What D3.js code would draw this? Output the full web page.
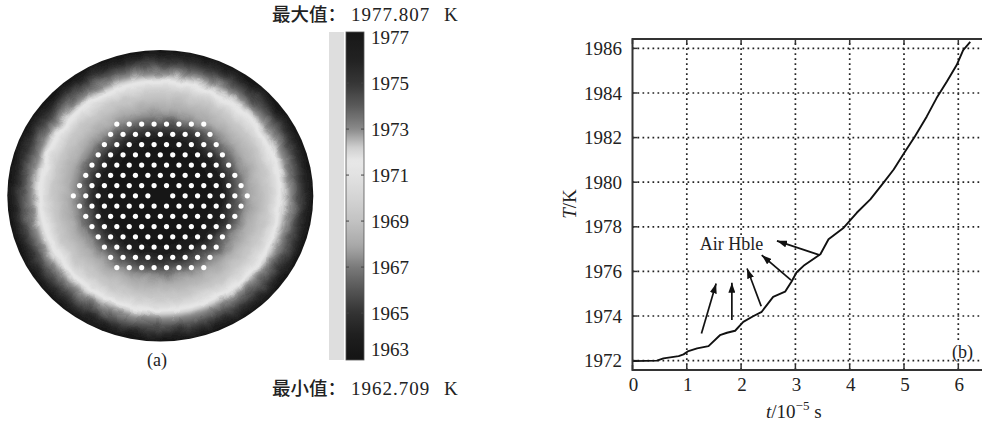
<!DOCTYPE html>
<html><head><meta charset="utf-8">
<script src="https://cdn.jsdelivr.net/npm/d3@7"></script>
<style>body{margin:0;background:#fff}svg{display:block}
.serif{font-family:"Liberation Serif","DejaVu Serif","Times New Roman",serif}
.cjk{font-family:"Noto Sans CJK SC","Noto Sans CJK JP",sans-serif}</style>
</head><body>
<svg id="fig" width="982" height="423"></svg>
<script>
// ---------- Panel (a): temperature field on the fiber end face ----------
// radial temperature profile, normalized radius -> K
const profileRadius = [0.00, 0.30, 0.40, 0.47, 0.55, 0.62, 0.70, 0.75, 0.78, 0.81, 0.84, 0.88, 0.92, 0.96, 1.00];
const profileTemp   = [1963.0, 1963.2, 1964.0, 1965.5, 1967.3, 1968.3, 1969.3, 1970.4, 1971.4, 1972.2, 1972.9, 1973.8, 1974.8, 1976.0, 1977.4];

// air-hole rows of the hexagonal cladding, top to bottom (centre hole absent)
const holeRowCounts = [8, 9, 10, 11, 12, 13, 14, 15, 14, 13, 12, 11, 10, 9, 8];
const holePitch = 0.0812;

// grey colour map, K -> grey level
const cmapTemp = [1962.7, 1964.0, 1965.0, 1966.0, 1967.0, 1967.6, 1968.0, 1969.0, 1970.0, 1971.0, 1971.6, 1972.2, 1973.0, 1974.0, 1975.0, 1976.0, 1977.8];
const cmapGray = [17, 30, 51, 85, 122, 153, 170, 194, 212, 226, 232, 207, 138, 90, 54, 34, 17];

const colorbarTicks = [1963, 1965, 1967, 1969, 1971, 1973, 1975, 1977];
const maxTemp = "1977.807";
const minTemp = "1962.709";

// ---------- Panel (b): temperature rise vs time ----------
const timeData = [0.00, 0.45, 0.57, 0.85, 0.94, 1.03, 1.19, 1.40, 1.61, 1.74, 1.89, 2.04, 2.23, 2.38, 2.59, 2.81, 2.93, 3.02, 3.15, 3.46, 3.61, 3.89, 4.13, 4.38, 4.62, 4.81, 5.02, 5.20, 5.42, 5.60, 5.79, 5.97, 6.09, 6.22];
const tempData = [1971.98, 1972.00, 1972.10, 1972.20, 1972.28, 1972.43, 1972.55, 1972.65, 1973.14, 1973.25, 1973.34, 1973.74, 1974.00, 1974.19, 1974.86, 1975.09, 1975.55, 1975.95, 1976.25, 1976.77, 1977.44, 1977.96, 1978.63, 1979.23, 1979.97, 1980.57, 1981.38, 1982.05, 1982.95, 1983.77, 1984.51, 1985.25, 1985.92, 1986.29];
const xTicks = [0, 1, 2, 3, 4, 5, 6];
const yTicks = [1972, 1974, 1976, 1978, 1980, 1982, 1984, 1986];

// annotation arrows (start on the curve, tip toward the label)
const arrowStartT = [1.27, 1.83, 2.37, 2.92, 3.45];
const arrowStartK = [1973.22, 1973.82, 1974.44, 1975.61, 1976.73];
const arrowTipT   = [1.54, 1.83, 2.11, 2.38, 2.66];
const arrowTipK   = [1975.46, 1975.49, 1976.13, 1976.73, 1977.37];
const annotation = {text: "Air Hble", t: 1.24, k: 1976.96};

const svg = d3.select("#fig");
const defs = svg.append("defs");

const gray = v => d3.rgb(v, v, v).formatHex();
const cmap = d3.scaleLinear().domain(cmapTemp).range(cmapGray.map(gray)).clamp(true);

// ---- fiber section ----
const cx = 160.3, cy = 195.8, rx = 153, ry = 145.8;
const fx = d3.scaleLinear().domain([-1, 1]).range([cx - rx, cx + rx]);
const fy = d3.scaleLinear().domain([-1, 1]).range([cy - ry, cy + ry]);
const radialT = d3.scaleLinear().domain(profileRadius).range(profileTemp);

const rg = defs.append("radialGradient").attr("id", "field")
  .attr("cx", "50%").attr("cy", "50%").attr("r", "50%");
d3.range(0, 1.0001, 0.01).forEach(r => {
  rg.append("stop").attr("offset", r).attr("stop-color", cmap(radialT(r)));
});

const turb = defs.append("filter").attr("id", "ragged")
  .attr("x", "-10%").attr("y", "-10%").attr("width", "120%").attr("height", "120%");
turb.append("feTurbulence").attr("type", "fractalNoise").attr("baseFrequency", 0.07)
  .attr("numOctaves", 2).attr("seed", 4).attr("result", "n");
turb.append("feDisplacementMap").attr("in", "SourceGraphic").attr("in2", "n")
  .attr("scale", 7).attr("xChannelSelector", "R").attr("yChannelSelector", "G");

defs.append("clipPath").attr("id", "fiberClip").append("ellipse")
  .attr("cx", cx).attr("cy", cy).attr("rx", rx).attr("ry", ry);

const fiber = svg.append("g").attr("clip-path", "url(#fiberClip)");
const fieldG = fiber.append("g").attr("filter", "url(#ragged)");
fieldG.append("ellipse").attr("cx", cx).attr("cy", cy).attr("rx", rx + 10).attr("ry", ry + 10)
  .attr("fill", cmap(profileTemp[profileTemp.length - 1]));
fieldG.append("ellipse").attr("cx", cx).attr("cy", cy).attr("rx", rx).attr("ry", ry)
  .attr("fill", "url(#field)");

defs.append("filter").attr("id", "soft").append("feGaussianBlur").attr("stdDeviation", 0.5);
const holes = [];
const mid = (holeRowCounts.length - 1) / 2;
holeRowCounts.forEach((n, i) => {
  for (let j = 0; j < n; j++) {
    const u = (j - (n - 1) / 2) * holePitch;
    const v = (i - mid) * holePitch * Math.sqrt(3) / 2;
    if (i === mid && j === (n - 1) / 2) continue;
    holes.push([u, v]);
  }
});
fiber.append("g").attr("filter", "url(#soft)").selectAll("circle").data(holes).join("circle")
  .attr("cx", d => fx(d[0])).attr("cy", d => fy(d[1])).attr("r", 2.6).attr("fill", "#fff");

svg.append("text").attr("class", "serif").attr("x", 157).attr("y", 366).attr("text-anchor", "middle")
  .attr("font-size", 18).attr("fill", "#222").text("(a)");

// ---- colour bar ----
const cbX = 346, cbW = 18, cbTop = 32, cbBot = 360;
const cb = d3.scaleLinear().domain([1962.96, 1977.22]).range([cbBot, cbTop]);
const lg = defs.append("linearGradient").attr("id", "cbar")
  .attr("x1", 0).attr("y1", 1).attr("x2", 0).attr("y2", 0);
d3.range(0, 1.0001, 0.01).forEach(f => {
  const t = cb.domain()[0] + f * (cb.domain()[1] - cb.domain()[0]);
  lg.append("stop").attr("offset", f).attr("stop-color", cmap(t));
});
svg.append("rect").attr("x", 329).attr("y", cbTop).attr("width", 15).attr("height", cbBot - cbTop)
  .attr("fill", "#dedede");
svg.append("rect").attr("x", cbX).attr("y", cbTop).attr("width", cbW).attr("height", cbBot - cbTop)
  .attr("fill", "url(#cbar)").attr("stroke", "#555").attr("stroke-width", 0.8);
const inner = colorbarTicks.slice(1, -1);
svg.append("g").selectAll("path").data(inner).join("path")
  .attr("d", d => `M${cbX},${cb(d)}h3M${cbX + cbW},${cb(d)}h-3`)
  .attr("stroke", "#444").attr("stroke-width", 1);
svg.append("g").attr("class", "serif").selectAll("text").data(colorbarTicks).join("text")
  .attr("x", 371).attr("y", d => Math.min(cb(d), cbBot - 11)).attr("dy", "0.35em")
  .attr("font-size", 19).attr("fill", "#222").text(d => d);

function extremeLabel(yPos, prefix, value) {
  const t = svg.append("text").attr("y", yPos).attr("fill", "#222");
  t.append("tspan").attr("class", "cjk").attr("x", 272).attr("font-size", 18.5)
    .attr("font-weight", 500).text(prefix + "：");
  t.append("tspan").attr("class", "serif").attr("x", 351).attr("font-size", 19)
    .attr("letter-spacing", 1).text(value);
  t.append("tspan").attr("class", "serif").attr("x", 444).attr("font-size", 19).text("K");
}
extremeLabel(21, "最大值", maxTemp);
extremeLabel(395, "最小值", minTemp);

// ---- panel (b) ----
const x = d3.scaleLinear().domain([0, 6.5]).range([632.5, 632.5 + 6.5 * 54.3]);
const y = d3.scaleLinear().domain([1971.58, 1986.42]).range([370, 39]);
const [x0, x1] = x.range(), [y0, y1] = y.range();

const grid = svg.append("g").attr("stroke", "#222").attr("stroke-width", 1.7)
  .attr("stroke-dasharray", "1.7,3.3");
grid.selectAll(".h").data(yTicks).join("line").attr("class", "h")
  .attr("x1", x0).attr("x2", x1).attr("y1", d => y(d)).attr("y2", d => y(d));
grid.selectAll(".v").data(xTicks.slice(1)).join("line").attr("class", "v")
  .attr("y1", y0).attr("y2", y1).attr("x1", d => x(d)).attr("x2", d => x(d));

// inward ticks on the frame
const ticks = svg.append("g").attr("stroke", "#333").attr("stroke-width", 1.5);
ticks.selectAll(".xb").data(xTicks).join("path").attr("d", d => `M${x(d)},${y0}v-5M${x(d)},${y1}v5`);
ticks.selectAll(".yl").data(yTicks).join("path").attr("d", d => `M${x0},${y(d)}h5`);

const line = d3.line().x(d => x(d[0])).y(d => y(d[1]));
svg.append("path").datum(timeData.map((t, i) => [t, tempData[i]]))
  .attr("d", line).attr("fill", "none").attr("stroke", "#111").attr("stroke-width", 1.9)
  .attr("stroke-linejoin", "round");

// annotation label on a white patch so the grid does not cross it
const lab = svg.append("text").attr("class", "serif").attr("x", x(annotation.t)).attr("y", y(annotation.k))
  .attr("font-size", 18).attr("fill", "#222").text(annotation.text);
const bb = lab.node().getBBox();
svg.insert("rect", () => lab.node()).attr("x", bb.x - 1).attr("y", bb.y + 2)
  .attr("width", bb.width + 2).attr("height", bb.height - 4).attr("fill", "#fff");

defs.append("marker").attr("id", "head").attr("viewBox", "0 0 10 7")
  .attr("refX", 10).attr("refY", 3.5).attr("markerWidth", 10).attr("markerHeight", 7)
  .attr("markerUnits", "userSpaceOnUse").attr("orient", "auto")
  .append("path").attr("d", "M0,0L10,3.5L0,7z").attr("fill", "#111");
svg.append("g").selectAll("line").data(arrowStartT).join("line")
  .attr("x1", (d, i) => x(arrowStartT[i])).attr("y1", (d, i) => y(arrowStartK[i]))
  .attr("x2", (d, i) => x(arrowTipT[i])).attr("y2", (d, i) => y(arrowTipK[i]))
  .attr("stroke", "#111").attr("stroke-width", 1.7).attr("marker-end", "url(#head)");

// panel tag with a white box over the grid
svg.append("rect").attr("x", 950).attr("y", 342).attr("width", 26).attr("height", 17).attr("fill", "#fff");
svg.append("text").attr("class", "serif").attr("x", 952).attr("y", 358).attr("font-size", 18)
  .attr("fill", "#222").text("(b)");

// frame
svg.append("path").attr("d", `M${x1},${y1}H${x0}V${y0}H${x1}`).attr("fill", "none")
  .attr("stroke", "#333").attr("stroke-width", 2);

// tick labels
svg.append("g").attr("class", "serif").selectAll("text").data(yTicks).join("text")
  .attr("x", 622).attr("y", d => y(d)).attr("dy", "0.35em").attr("text-anchor", "end")
  .attr("font-size", 19).attr("fill", "#222").text(d => d);
svg.append("g").attr("class", "serif").selectAll("text").data(xTicks).join("text")
  .attr("x", d => x(d) + 1).attr("y", 391).attr("text-anchor", "middle")
  .attr("font-size", 19).attr("fill", "#222").text(d => d);

// axis titles
const xt = svg.append("text").attr("class", "serif").attr("x", 766).attr("y", 418)
  .attr("font-size", 19).attr("fill", "#222");
xt.append("tspan").attr("font-style", "italic").text("t");
xt.append("tspan").text("/10");
xt.append("tspan").attr("dy", -8).attr("font-size", 13).text("−5");
xt.append("tspan").attr("dy", 8).text(" s");

const yt = svg.append("text").attr("class", "serif").attr("transform", "translate(576,204) rotate(-90)")
  .attr("text-anchor", "middle").attr("font-size", 19).attr("fill", "#222");
yt.append("tspan").attr("font-style", "italic").text("T");
yt.append("tspan").text("/K");
</script>
</body></html>
